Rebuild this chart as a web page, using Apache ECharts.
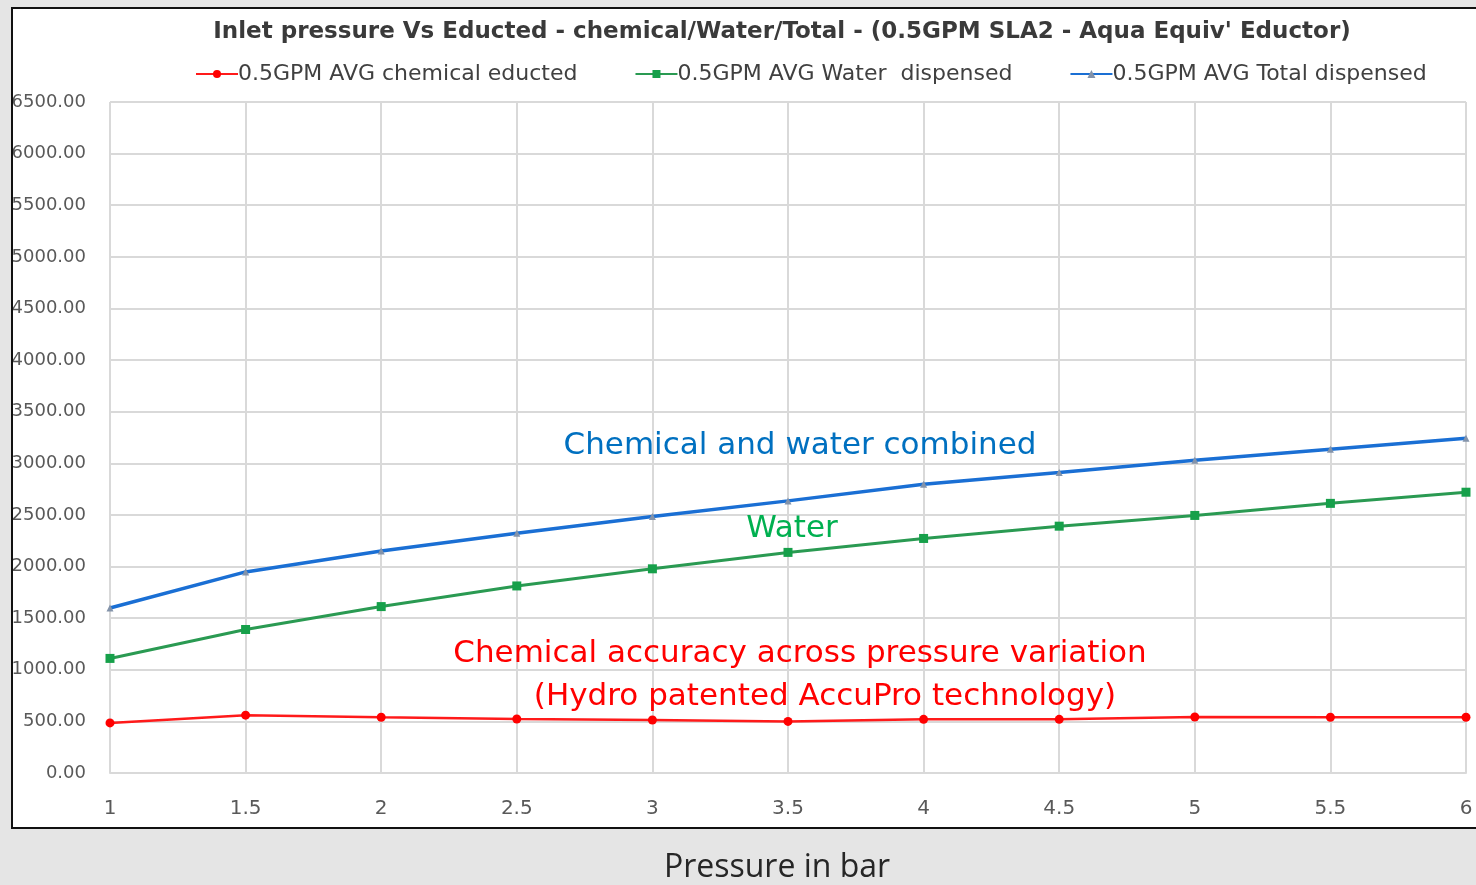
<!DOCTYPE html>
<html>
<head>
<meta charset="utf-8">
<script src="https://cdn.jsdelivr.net/npm/echarts@6/dist/echarts.min.js"></script>
<style>
html,body{margin:0;padding:0;background:#e5e5e5;}
#c{width:1476px;height:885px;}
</style>
</head>
<body>
<div id="c"></div>
<script>
const pressure = [1, 1.5, 2, 2.5, 3, 3.5, 4, 4.5, 5, 5.5, 6];
const chemical = [485, 560, 540, 523, 513, 500, 520, 520, 543, 540, 540];
const water = [1110, 1390, 1612, 1812, 1978, 2137, 2272, 2391, 2495, 2612, 2720];
const total = [1598, 1948, 2150, 2322, 2484, 2636, 2797, 2911, 3030, 3137, 3242];
const seriesNames = ['0.5GPM AVG chemical educted', '0.5GPM AVG Water  dispensed', '0.5GPM AVG Total dispensed'];
const titleText = "Inlet pressure Vs Educted - chemical/Water/Total - (0.5GPM SLA2 - Aqua Equiv' Eductor)";
const xAxisTitle = 'Pressure in bar';
const notes = ['Chemical and water combined', 'Water', 'Chemical accuracy across pressure variation', '(Hydro patented AccuPro technology)'];

const pair = arr => pressure.map((p, i) => [p, arr[i]]);
const chart = echarts.init(document.getElementById('c'));
const gridColor = '#d9d9d9';
chart.setOption({
  backgroundColor: '#e5e5e5',
  animation: false,
  title: {
    text: titleText,
    left: 777, top: 16, textAlign: 'center',
    textStyle: {fontFamily: 'DejaVu Sans', fontWeight: 'bold', fontSize: 23, color: '#3a3a3a'}
  },
  legend: {
    left: 190, top: 58,
    itemWidth: 42, itemHeight: 10, itemGap: 57,
    textStyle: {fontFamily: 'DejaVu Sans', fontSize: 22, color: '#404040', padding: [0, 0, 0, -5]},
    data: seriesNames
  },
  grid: {left: 110, top: 102, width: 1356, height: 671, containLabel: false},
  xAxis: {
    type: 'value', min: 1, max: 6, interval: 0.5,
    axisLine: {show: true, lineStyle: {color: gridColor, width: 2}},
    axisTick: {show: false},
    splitLine: {show: true, lineStyle: {color: gridColor, width: 2}},
    axisLabel: {margin: 26, fontFamily: 'DejaVu Sans', fontSize: 20, color: '#595959',
      formatter: v => String(v)}
  },
  yAxis: {
    type: 'value', min: 0, max: 6500, interval: 500,
    axisLine: {show: false}, axisTick: {show: false},
    splitLine: {show: true, lineStyle: {color: gridColor, width: 2}},
    axisLabel: {margin: 24, fontFamily: 'DejaVu Sans', fontSize: 18, color: '#595959',
      formatter: v => v.toFixed(2)}
  },
  series: [
    {name: seriesNames[0], type: 'line', data: pair(chemical), symbol: 'circle', symbolSize: 9,
      lineStyle: {color: '#ff1a1a', width: 2.5}, itemStyle: {color: '#ff0000'}, z: 3},
    {name: seriesNames[1], type: 'line', data: pair(water), symbol: 'rect', symbolSize: 9,
      lineStyle: {color: '#2a9a52', width: 3}, itemStyle: {color: '#16a04a'}, z: 3},
    {name: seriesNames[2], type: 'line', data: pair(total), symbol: 'triangle', symbolSize: 7,
      lineStyle: {color: '#1a6fd4', width: 3.5}, itemStyle: {color: '#8393aa'}, z: 3}
  ],
  graphic: [
    {type: 'rect', z: -10, shape: {x: 12, y: 8, width: 1480, height: 820}, style: {fill: '#ffffff'}},
    {type: 'text', z: 10, x: 800, y: 446, style: {text: notes[0], fill: '#0070c0', font: '31px "DejaVu Sans"', align: 'center', verticalAlign: 'middle'}},
    {type: 'text', z: 10, x: 792, y: 529, style: {text: notes[1], fill: '#00b050', font: '31px "DejaVu Sans"', align: 'center', verticalAlign: 'middle'}},
    {type: 'text', z: 10, x: 800, y: 654, style: {text: notes[2], fill: '#ff0000', font: '31px "DejaVu Sans"', align: 'center', verticalAlign: 'middle'}},
    {type: 'text', z: 10, x: 825, y: 697, style: {text: notes[3], fill: '#ff0000', font: '31px "DejaVu Sans"', align: 'center', verticalAlign: 'middle'}},
    {type: 'rect', z: 100, shape: {x: 0, y: 0, width: 11, height: 885}, style: {fill: '#e5e5e5'}},
    {type: 'rect', z: 101, shape: {x: 12, y: 8, width: 1480, height: 820}, style: {fill: 'none', stroke: '#111111', lineWidth: 2}},
    {type: 'text', z: 10, x: 777, y: 868, style: {text: xAxisTitle, fill: '#262626', font: '32px "Open Sans"', align: 'center', verticalAlign: 'middle'}}
  ]
});
</script>
</body>
</html>
